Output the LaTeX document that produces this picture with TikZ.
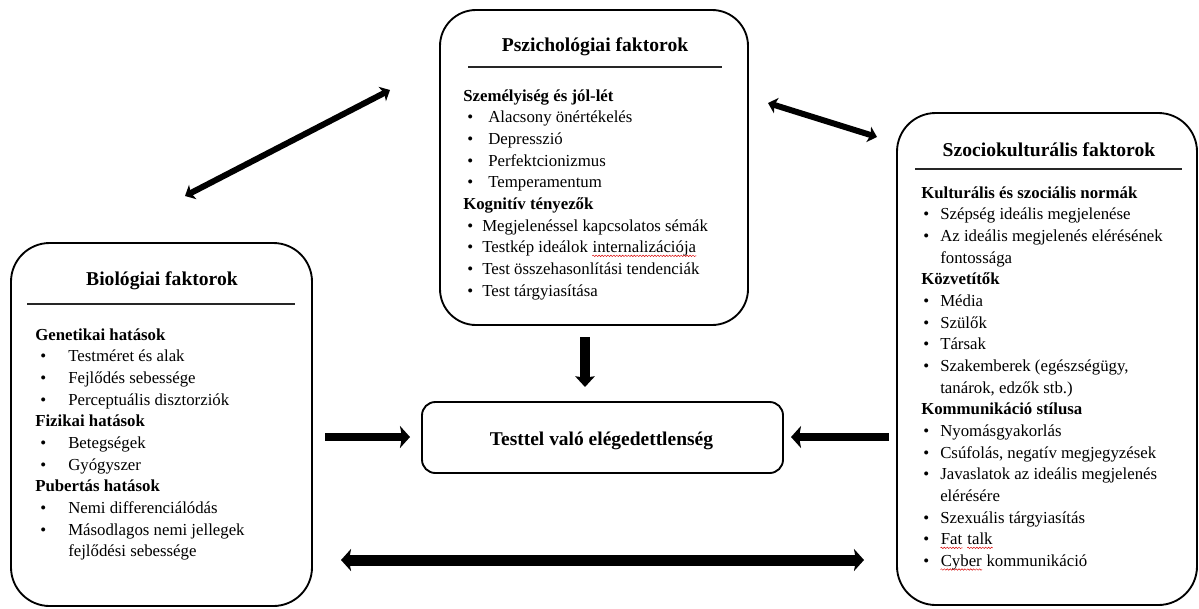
\documentclass[tikz,border=0pt]{standalone}
\usepackage{fontspec}
\setmainfont{Liberation Serif}
\usetikzlibrary{arrows.meta,decorations.pathmorphing}

% one screen pixel
\newlength\px
\setlength\px{0.75pt}

% bulleted line: bullet indent, gap from bullet to text, text
\newcommand\bitem[3]{\hspace*{#1\px}\makebox[#2\px][l]{\textbullet}#3}
% red wavy spell-check underline
\newcommand\spellwave[1]{\tikz[baseline=(sw.base),x=1pt,y=1pt]{%
  \node[inner sep=0pt, anchor=base, draw=none] (sw) at (0,0) {#1};
  \draw[red!85!black, line width=0.35pt, decorate,
    decoration={snake, amplitude=0.55pt, segment length=2.2pt}]
    ([yshift=-2.2pt]sw.base west) -- ([yshift=-2.2pt]sw.base east);}}

\begin{document}
\begin{tikzpicture}[x=0.75pt,y=-0.75pt,
  panel/.style={draw=black, line width=1.4pt, rounded corners=29pt},
  core/.style={draw=black, line width=1.4pt, rounded corners=10pt},
  ttl/.style={font=\bfseries\fontsize{14.7pt}{17pt}\selectfont, inner sep=0pt, anchor=base},
  body/.style={font=\fontsize{12.6pt}{16.25pt}\selectfont, align=left, inner sep=0pt, anchor=north west},
  rule/.style={draw=black!85, line width=0.8pt},
  diag/.style={draw=black, line width=4.5pt,
    {Stealth[length=6.5pt,width=12pt,inset=1.5pt]}-{Stealth[length=6.5pt,width=12pt,inset=1.5pt]}},
  side/.style={draw=black, line width=5.5pt,
    -{Stealth[length=7.5pt,width=16.5pt,inset=1.5pt]}},
  down/.style={draw=black, line width=8pt,
    -{Stealth[length=8pt,width=14.5pt,inset=1pt]}},
  wide/.style={draw=black, line width=8.25pt,
    {Stealth[length=7.5pt,width=16.5pt,inset=1.5pt]}-{Stealth[length=7.5pt,width=16.5pt,inset=1.5pt]}},
]
\useasboundingbox (0,0) rectangle (1199,608);

% ---------- panels ----------
\draw[panel] (11,243) rectangle (312,606);
\draw[panel, rounded corners=27pt] (440,10) rectangle (748,325);
\draw[panel] (897,113) rectangle (1197,605);
\node[core, minimum width=361\px, minimum height=71\px, inner sep=0pt] (core) at (602.5,437.5) {};

% ---------- titles and rules ----------
\node[ttl] (bioTitle) at (162,285) {Biológiai faktorok};
\draw[rule] (27,304) -- (295,304);
\node[ttl] (psyTitle) at (595,51) {Pszichológiai faktorok};
\draw[rule] (468,67) -- (722,67);
\node[ttl] (socTitle) at (1049,156) {Szociokulturális faktorok};
\draw[rule] (915,169) -- (1182,169);
\node[ttl, font=\bfseries\fontsize{14.6pt}{17pt}\selectfont] (coreTitle) at (601.5,445) {Testtel való elégedettlenség};

% ---------- biological factors ----------
\node[body] (bioTxt) at (35,324.8) {\strut\textbf{Genetikai hatások}\\
\bitem{5}{28}{Testméret és alak}\\
\bitem{5}{28}{Fejlődés sebessége}\\
\bitem{5}{28}{Perceptuális disztorziók}\\
\textbf{Fizikai hatások}\\
\bitem{5}{28}{Betegségek}\\
\bitem{5}{28}{Gyógyszer}\\
\textbf{Pubertás hatások}\\
\bitem{5}{28}{Nemi differenciálódás}\\
\bitem{5}{28}{Másodlagos nemi jellegek}\\
\hspace*{33\px}fejlődési sebessége};

% ---------- psychological factors ----------
\node[body] (psyTxt) at (463,85.8) {\strut\textbf{Személyiség és jól-lét}\\
\bitem{4}{21}{Alacsony önértékelés}\\
\bitem{4}{21}{Depresszió}\\
\bitem{4}{21}{Perfektcionizmus}\\
\bitem{4}{21}{Temperamentum}\\
\textbf{Kognitív tényezők}\\
\bitem{4}{15}{Megjelenéssel kapcsolatos sémák}\\
\bitem{4}{15}{Testkép ideálok \spellwave{internalizációja}}\\
\bitem{4}{15}{Test összehasonlítási tendenciák}\\
\bitem{4}{15}{Test tárgyiasítása}};

% ---------- sociocultural factors ----------
\node[body] (socTxt) at (921,182.8) {\strut\textbf{Kulturális és szociális normák}\\
\bitem{2}{17}{Szépség ideális megjelenése}\\
\bitem{2}{17}{Az ideális megjelenés elérésének}\\
\hspace*{19\px}fontossága\\
\textbf{Közvetítők}\\
\bitem{2}{17}{Média}\\
\bitem{2}{17}{Szülők}\\
\bitem{2}{17}{Társak}\\
\bitem{2}{17}{Szakemberek (egészségügy,}\\
\hspace*{19\px}tanárok, edzők stb.)\\
\textbf{Kommunikáció stílusa}\\
\bitem{2}{17}{Nyomásgyakorlás}\\
\bitem{2}{17}{Csúfolás, negatív megjegyzések}\\
\bitem{2}{17}{Javaslatok az ideális megjelenés}\\
\hspace*{19\px}elérésére\\
\bitem{2}{17}{Szexuális tárgyiasítás}\\
\bitem{2}{17}{\spellwave{Fat} \spellwave{talk}}\\
\bitem{2}{17}{\spellwave{Cyber} kommunikáció}};

% ---------- arrow end points ----------
\coordinate (bioPsyA) at (185,196);
\coordinate (bioPsyB) at (390,90);
\coordinate (psySocA) at (768,103);
\coordinate (psySocB) at (877,137);
\coordinate (psyDown) at (585,337);
\coordinate (psyDownEnd) at (585,387);
\coordinate (bioOut) at (325,437);
\coordinate (bioIn) at (410,437);
\coordinate (socOut) at (889,437);
\coordinate (socIn) at (791,437);
\coordinate (bioSocA) at (341,560);
\coordinate (bioSocB) at (864,560);

% ---------- arrows ----------
\draw[diag] (bioPsyA) -- (bioPsyB);
\draw[diag] (psySocA) -- (psySocB);
\draw[down] (psyDown) -- (psyDownEnd);
\draw[side] (bioOut) -- (bioIn);
\draw[side] (socOut) -- (socIn);
\draw[wide] (bioSocA) -- (bioSocB);
\end{tikzpicture}
\end{document}
